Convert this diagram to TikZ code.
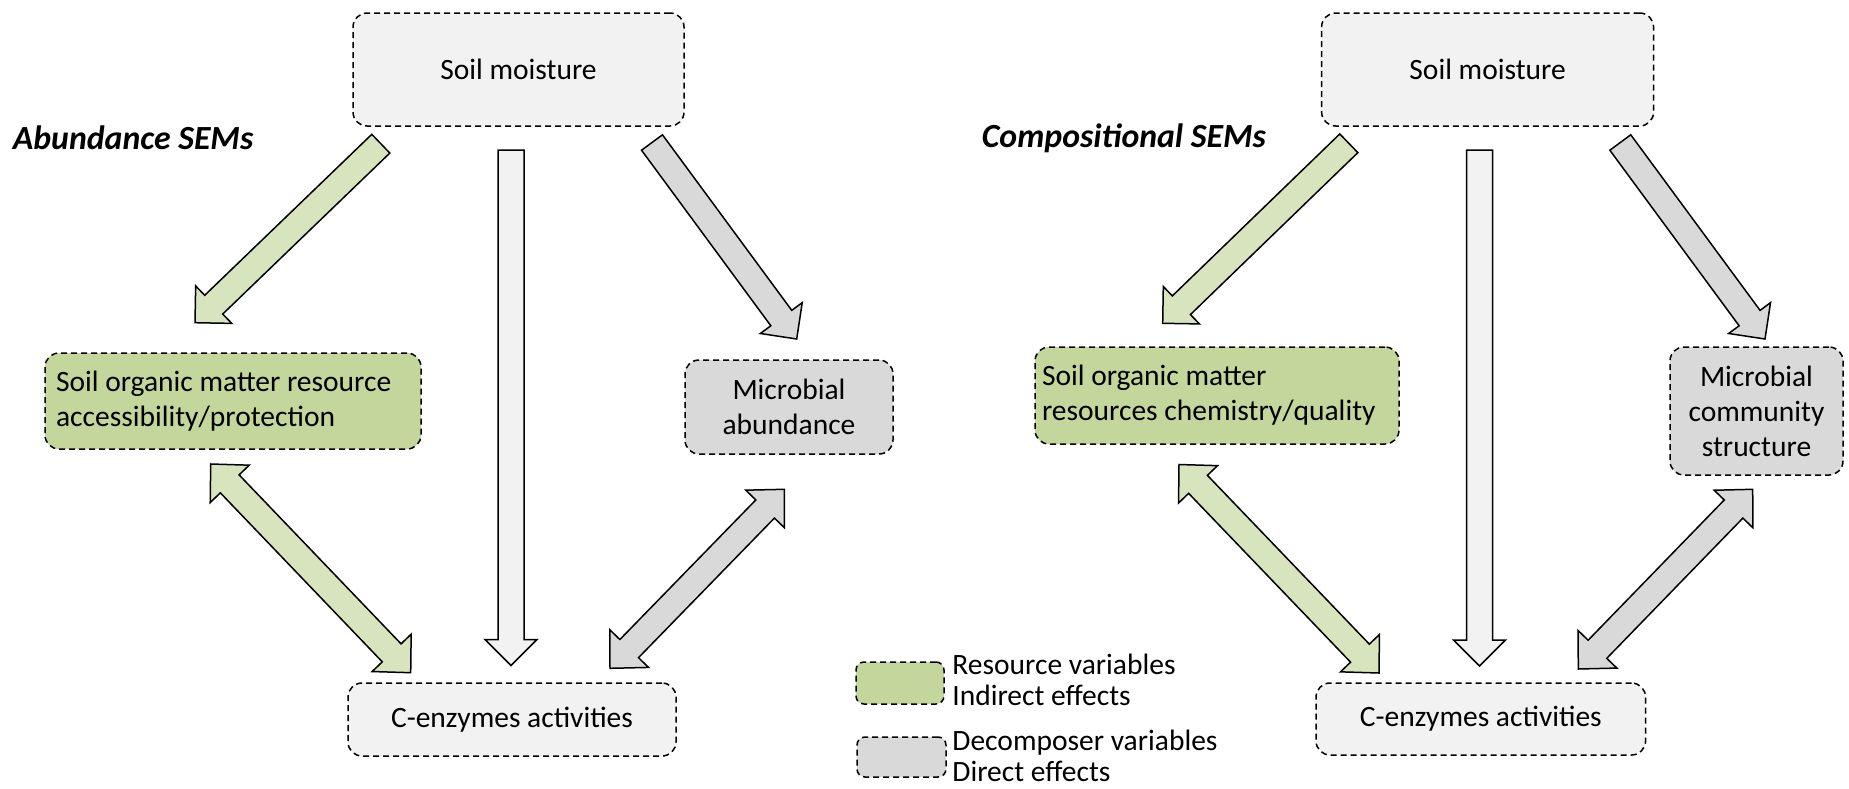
\documentclass[tikz,border=0pt]{standalone}
\usepackage{fontspec}
\setmainfont{Carlito}
\usetikzlibrary{calc}
\definecolor{lightfill}{HTML}{F2F2F2}
\definecolor{greenfill}{HTML}{C3D69B}
\definecolor{greenarr}{HTML}{D7E4BD}
\definecolor{grayfill}{HTML}{D9D9D9}
\newcommand{\shw}{6.5pt}
\newcommand{\hhw}{13pt}
\newcommand{\ahl}{13pt}
\newcommand{\dhhw}{13.5pt}
\newcommand{\dahl}{13.75pt}
\newcommand{\boxfont}{\fontsize{14.75}{17.5}\selectfont}
\newcommand{\legfont}{\fontsize{14.75}{15.2}\selectfont\lineskiplimit=-20pt}
\newcommand{\singlearrow}[3]{%
  \coordinate (bah) at ($(#2)!\ahl!(#1)$);
  \filldraw[#3] ($(#1)!\shw!90:(#2)$) -- ($(bah)!\shw!90:(#2)$) -- ($(bah)!\hhw!90:(#2)$) -- (#2)
    -- ($(bah)!\hhw!-90:(#2)$) -- ($(bah)!\shw!-90:(#2)$) -- ($(#1)!\shw!-90:(#2)$) -- cycle;
}
\newcommand{\doublearrow}[3]{%
  \coordinate (dah) at ($(#1)!\dahl!(#2)$);
  \coordinate (dbh) at ($(#2)!\dahl!(#1)$);
  \filldraw[#3] (#1) -- ($(dah)!\dhhw!90:(#2)$) -- ($(dah)!\shw!90:(#2)$) -- ($(dbh)!\shw!-90:(#1)$)
    -- ($(dbh)!\dhhw!-90:(#1)$) -- (#2) -- ($(dbh)!\dhhw!90:(#1)$) -- ($(dbh)!\shw!90:(#1)$)
    -- ($(dah)!\shw!-90:(#2)$) -- ($(dah)!\dhhw!-90:(#2)$) -- cycle;
}
\begin{document}
\begin{tikzpicture}[x=0.5pt,y=-0.5pt,
  varbox/.style={draw=black, line width=0.75pt, dash pattern=on 3pt off 2pt, rounded corners=7pt,
    inner sep=0pt, align=center, font=\boxfont},
  legtext/.style={inner sep=0pt, align=left, font=\legfont},
  paneltitle/.style={inner sep=0pt, font=\fontsize{16.9}{20}\selectfont\bfseries\itshape},
  blockarr/.style={draw=black, line width=0.75pt, line join=miter, fill=#1}]
\useasboundingbox (0,0) rectangle (1849,788);
\fill[white] (0,0) rectangle (1849,788);

% titles
\node[paneltitle, anchor=west] (tA) at (12.5,138) {Abundance SEMs};
\node[paneltitle, anchor=west] (tC) at (981.5,138) {Compositional SEMs};

% left panel
\node[varbox, fill=lightfill, minimum width=165.5pt, minimum height=56.5pt] (smL) at (518.5,69.5) {Soil moisture};
\node[varbox, fill=greenfill, minimum width=188pt, minimum height=48pt, text width=177pt, inner xsep=5.5pt, align=left] (somL) at (233,401) {\spaceskip=0pt\xspaceskip=0pt Soil organic matter resource\\accessibility/protection};
\node[varbox, fill=grayfill, minimum width=104pt, minimum height=47pt] (micL) at (789,407) {Microbial\\abundance};
\node[varbox, fill=lightfill, minimum width=164pt, minimum height=36.5pt] (cenL) at (512,719.5) {C-enzymes activities};

% right panel
\node[varbox, fill=lightfill, minimum width=166pt, minimum height=56.5pt] (smR) at (1487.6,69.5) {Soil moisture};
\node[varbox, fill=greenfill, minimum width=182pt, minimum height=48.5pt, text width=175pt, inner xsep=3.5pt, align=left] (somR) at (1217,395.5) {\spaceskip=0pt\xspaceskip=0pt Soil organic matter\\resources chemistry/quality};
\node[varbox, fill=grayfill, minimum width=86.5pt, minimum height=64pt] (micR) at (1756.5,411) {Microbial\\community\\structure};
\node[varbox, fill=lightfill, minimum width=164.75pt, minimum height=36pt] (cenR) at (1480.8,719) {C-enzymes activities};

% legend
\node[varbox, fill=greenfill, minimum width=44pt, minimum height=21pt, rounded corners=4pt] (legG) at (900,683) {};
\node[varbox, fill=grayfill, minimum width=44.5pt, minimum height=20pt, rounded corners=4pt] (legY) at (901.5,757) {};
\node[legtext, anchor=west] (legGt) at (952,680) {Resource variables\\Indirect effects};
\node[legtext, anchor=west] (legYt) at (952,756) {Decomposer variables\\Direct effects};

% arrow end points
\coordinate (gL1s) at (380.8,143.7);  \coordinate (gL1e) at (195,322.7);
\coordinate (yL1s) at (652,142.5);    \coordinate (yL1e) at (796.7,339);
\coordinate (vL1s) at (511,150);      \coordinate (vL1e) at (511,665.5);
\coordinate (gLd1) at (210.7,464);    \coordinate (gLd2) at (410.7,672.7);
\coordinate (yLd1) at (784.3,489.3);  \coordinate (yLd2) at (610,668.3);
\coordinate (gR1s) at (1348.8,143.3); \coordinate (gR1e) at (1162.7,323.3);
\coordinate (yR1s) at (1620.3,142.5); \coordinate (yR1e) at (1765,339);
\coordinate (vR1s) at (1479.5,150);   \coordinate (vR1e) at (1479.5,666);
\coordinate (gRd1) at (1179,464.5);   \coordinate (gRd2) at (1379,673);
\coordinate (yRd1) at (1752.7,489.3); \coordinate (yRd2) at (1578.3,669);

% arrows left
\singlearrow{gL1s}{gL1e}{blockarr=greenarr}
\singlearrow{yL1s}{yL1e}{blockarr=grayfill}
\singlearrow{vL1s}{vL1e}{blockarr=lightfill}
\doublearrow{gLd1}{gLd2}{blockarr=greenarr}
\doublearrow{yLd1}{yLd2}{blockarr=grayfill}
% arrows right
\singlearrow{gR1s}{gR1e}{blockarr=greenarr}
\singlearrow{yR1s}{yR1e}{blockarr=grayfill}
\singlearrow{vR1s}{vR1e}{blockarr=lightfill}
\doublearrow{gRd1}{gRd2}{blockarr=greenarr}
\doublearrow{yRd1}{yRd2}{blockarr=grayfill}
\end{tikzpicture}
\end{document}
